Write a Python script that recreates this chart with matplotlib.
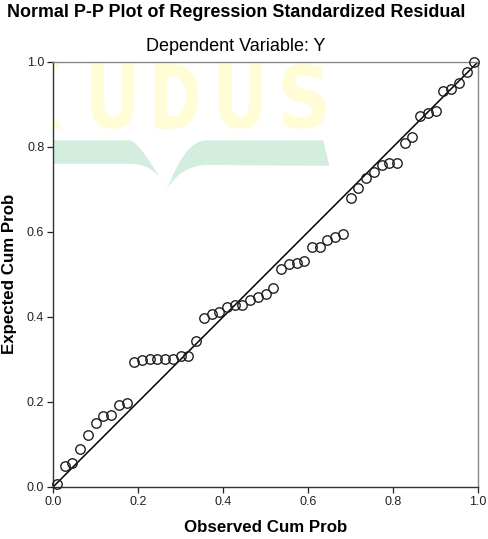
import matplotlib
matplotlib.use("Agg")
from matplotlib import pyplot as plt
from matplotlib.path import Path
from matplotlib.patches import PathPatch
from matplotlib.textpath import TextPath
from matplotlib.font_manager import FontProperties
from matplotlib.transforms import Affine2D

plt.rcParams['font.family'] = ['Liberation Sans', 'DejaVu Sans']

# observed vs expected cumulative probabilities
observed = [0.009, 0.027, 0.045, 0.064, 0.082, 0.100, 0.118, 0.136, 0.155, 0.173,
            0.191, 0.209, 0.227, 0.245, 0.264, 0.282, 0.300, 0.318, 0.336, 0.355,
            0.373, 0.391, 0.409, 0.427, 0.445, 0.464, 0.482, 0.500, 0.518, 0.536,
            0.555, 0.573, 0.591, 0.609, 0.627, 0.645, 0.664, 0.682, 0.700, 0.718,
            0.736, 0.755, 0.773, 0.791, 0.809, 0.827, 0.845, 0.864, 0.882, 0.900,
            0.918, 0.936, 0.955, 0.973, 0.991]
expected = [0.006, 0.049, 0.056, 0.089, 0.122, 0.150, 0.166, 0.169, 0.192, 0.197,
            0.293, 0.298, 0.300, 0.300, 0.300, 0.300, 0.308, 0.308, 0.343, 0.397,
            0.406, 0.411, 0.423, 0.428, 0.428, 0.439, 0.446, 0.453, 0.467, 0.512,
            0.524, 0.526, 0.531, 0.564, 0.564, 0.580, 0.587, 0.595, 0.679, 0.703,
            0.726, 0.740, 0.757, 0.762, 0.762, 0.809, 0.823, 0.872, 0.879, 0.884,
            0.931, 0.935, 0.950, 0.976, 0.999]
ticks = [0.0, 0.2, 0.4, 0.6, 0.8, 1.0]
tick_labels = ['0.0', '0.2', '0.4', '0.6', '0.8', '1.0']

fig = plt.figure(figsize=(4.89, 5.39), dpi=100)
ax = fig.add_axes([0.109, 0.097, 0.869, 0.7885])


def add_watermark(ax):
    # faint "KUDUS" letters + open-book band behind the data
    fp = FontProperties(family='DejaVu Sans', weight='bold')
    centers = [-0.03, 0.14, 0.29, 0.44, 0.59]
    w, y0, y1 = 0.102, 0.842, 0.995
    for ch, cx in zip("KUDUS", centers):
        tp = TextPath((0, 0), ch, prop=fp)
        bb = tp.get_extents()
        tr = (Affine2D().translate(-bb.x0, -bb.y0)
              .scale(w / bb.width, (y1 - y0) / bb.height)
              .translate(cx - w / 2, y0))
        ax.add_patch(PathPatch(tr.transform_path(tp), facecolor='#fffcd6',
                               edgecolor='none', transform=ax.transAxes, zorder=0))
    C3, C4 = Path.CURVE3, Path.LINETO
    codes = [Path.MOVETO, C4, C3, C3, C3, C3, C4, Path.CLOSEPOLY]
    verts = [(-0.01, 0.815), (0.18, 0.815), (0.2, 0.815), (0.268, 0.70),
             (0.24, 0.76), (0.18, 0.76), (-0.01, 0.76), (-0.01, 0.815)]
    ax.add_patch(PathPatch(Path(verts, codes), facecolor='#d3eedf', edgecolor='none',
                           transform=ax.transAxes, zorder=0))
    verts = [(0.635, 0.815), (0.36, 0.815), (0.31, 0.815), (0.268, 0.70),
             (0.30, 0.755), (0.36, 0.757), (0.65, 0.755), (0.635, 0.815)]
    ax.add_patch(PathPatch(Path(verts, codes), facecolor='#d3eedf', edgecolor='none',
                           transform=ax.transAxes, zorder=0))


add_watermark(ax)

ax.plot([0, 1], [0, 1], color='black', lw=1.1, zorder=2)
ax.plot(observed, expected, 'o', ms=6.8, mfc='none', mec='#202020', mew=1.0,
        zorder=3, clip_on=False)

ax.set_xlim(0, 1)
ax.set_ylim(0, 1)
ax.set_xticks(ticks)
ax.set_xticklabels(tick_labels)
ax.set_yticks(ticks)
ax.set_yticklabels(tick_labels)
ax.tick_params(direction='out', length=4.5, width=0.9, labelsize=9,
               colors='#222222', pad=2)
for s in ['left', 'bottom']:
    ax.spines[s].set_color('#333333')
    ax.spines[s].set_linewidth(1.0)
for s in ['top', 'right']:
    ax.spines[s].set_color('#888888')
    ax.spines[s].set_linewidth(1.0)

ax.set_xlabel('Observed Cum Prob', fontsize=12.2, fontweight='bold')
ax.set_ylabel('Expected Cum Prob', fontsize=12.2, fontweight='bold')
ax.xaxis.label.set_va('center')
ax.yaxis.label.set_va('center')
ax.xaxis.set_label_coords(0.5, -0.097)
ax.yaxis.set_label_coords(-0.102, 0.5)

fig.text(0.484, 0.976, 'Normal P-P Plot of Regression Standardized Residual',
         ha='center', va='center', fontsize=12.9, fontweight='bold')
fig.text(0.482, 0.913, 'Dependent Variable: Y', ha='center', va='center', fontsize=13)

fig.savefig('out.png', dpi=100)
